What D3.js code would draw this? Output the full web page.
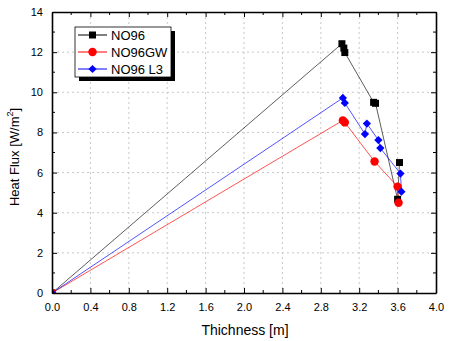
<!DOCTYPE html>
<html><head><meta charset="utf-8">
<script src="https://cdn.jsdelivr.net/npm/d3@7"></script>
<style>body{margin:0;background:#fff}svg{display:block;font-family:Arial,"Liberation Sans",sans-serif}</style>
</head><body>
<svg id="c" width="450" height="341"></svg>
<script>
const seriesNames = ["NO96", "NO96GW", "NO96 L3"];
const seriesColors = ["#000000", "#ff0000", "#0000ff"];
const no96X = [0, 3.02, 3.04, 3.05, 3.35, 3.37, 3.60, 3.62];
const no96Y = [0, 12.42, 12.2, 11.98, 9.5, 9.45, 4.67, 6.5];
const no96gwX = [0, 3.03, 3.05, 3.36, 3.60, 3.61];
const no96gwY = [0, 8.6, 8.5, 6.55, 5.3, 4.5];
const no96l3X = [0, 3.03, 3.05, 3.26, 3.28, 3.40, 3.42, 3.63, 3.64];
const no96l3Y = [0, 9.72, 9.47, 7.92, 8.44, 7.62, 7.22, 5.95, 5.05];
const xTicks = [0, 0.4, 0.8, 1.2, 1.6, 2.0, 2.4, 2.8, 3.2, 3.6, 4.0];
const yTicks = [0, 2, 4, 6, 8, 10, 12, 14];
const xTitle = "Thichness [m]";

const svg = d3.select("#c");
const L = 52, R = 436, T = 12, B = 293;
const x = d3.scaleLinear().domain([0, 4]).range([L, R]);
const y = d3.scaleLinear().domain([0, 14]).range([B, T]);

// grid
const g = svg.append("g");
g.selectAll(".gx").data(xTicks.slice(1, -1)).enter().append("line")
  .attr("x1", d => x(d)).attr("x2", d => x(d)).attr("y1", T).attr("y2", B)
  .attr("stroke", "#c8c8c8").attr("stroke-dasharray", "2,3");
g.selectAll(".gy").data(yTicks.slice(1, -1)).enter().append("line")
  .attr("y1", d => y(d)).attr("y2", d => y(d)).attr("x1", L).attr("x2", R)
  .attr("stroke", "#c8c8c8").attr("stroke-dasharray", "2,3");

svg.append("clipPath").attr("id", "clip").append("rect")
  .attr("x", L).attr("y", T).attr("width", R - L).attr("height", B - T);

const data = [
  no96X.map((v, i) => [v, no96Y[i]]),
  no96gwX.map((v, i) => [v, no96gwY[i]]),
  no96l3X.map((v, i) => [v, no96l3Y[i]])
];
const shapes = [d3.symbolSquare, d3.symbolCircle, d3.symbolSquare];
const sizes = [49, 56, 34];
const rot = [0, 0, 45];
const line = d3.line().x(d => x(d[0])).y(d => y(d[1]));
const plot = svg.append("g").attr("clip-path", "url(#clip)");
data.forEach((s, i) => {
  plot.append("path").attr("d", line(s)).attr("fill", "none")
    .attr("stroke", seriesColors[i]).attr("stroke-width", 0.8).attr("opacity", i === 0 ? 0.8 : 0.85);
});
data.forEach((s, i) => {
  plot.selectAll(null).data(s).enter().append("path")
    .attr("d", d3.symbol().type(shapes[i]).size(sizes[i]))
    .attr("transform", d => `translate(${x(d[0])},${y(d[1])}) rotate(${rot[i]})`)
    .attr("fill", seriesColors[i]);
});

// axes
const axB = d3.axisBottom(x).tickValues(xTicks).tickFormat(d3.format(".1f")).tickSizeInner(-5).tickSizeOuter(0).tickPadding(10);
const axL = d3.axisLeft(y).tickValues(yTicks).tickFormat(d3.format("d")).tickSizeInner(-5).tickSizeOuter(0).tickPadding(9);
const axT = d3.axisTop(x).tickValues(xTicks).tickFormat("").tickSizeInner(-5).tickSizeOuter(0);
const axR = d3.axisRight(y).tickValues(yTicks).tickFormat("").tickSizeInner(-5).tickSizeOuter(0);
const xMinor = d3.range(0.2, 4, 0.4);
const yMinor = d3.range(1, 14, 2);
function style(sel) {
  sel.selectAll("path.domain").attr("stroke", "#000").attr("stroke-width", 1.6);
  sel.selectAll("line").attr("stroke", "#000").attr("stroke-width", 1);
  sel.selectAll("text").attr("font-size", 11).attr("fill", "#000")
    .attr("font-family", "Arial, 'Liberation Sans', sans-serif");
}
style(svg.append("g").attr("transform", `translate(0,${B})`).call(axB));
style(svg.append("g").attr("transform", `translate(${L},0)`).call(axL));
style(svg.append("g").attr("transform", `translate(0,${T})`).call(axT));
style(svg.append("g").attr("transform", `translate(${R},0)`).call(axR));
// minor ticks
const mt = svg.append("g").attr("stroke", "#000").attr("stroke-width", 1);
xMinor.forEach(v => {
  mt.append("line").attr("x1", x(v)).attr("x2", x(v)).attr("y1", B).attr("y2", B - 3);
  mt.append("line").attr("x1", x(v)).attr("x2", x(v)).attr("y1", T).attr("y2", T + 3);
});
yMinor.forEach(v => {
  mt.append("line").attr("y1", y(v)).attr("y2", y(v)).attr("x1", L).attr("x2", L + 3);
  mt.append("line").attr("y1", y(v)).attr("y2", y(v)).attr("x1", R).attr("x2", R - 3);
});

// titles
svg.append("text").attr("x", 245).attr("y", 335).attr("text-anchor", "middle")
  .attr("font-size", 14).text(xTitle);
const yt = svg.append("text").attr("transform", "translate(19,157) rotate(-90)")
  .attr("text-anchor", "middle").attr("font-size", 13);
yt.append("tspan").text("Heat Flux [W/m");
yt.append("tspan").attr("dy", -6).attr("font-size", 9).text("2");
yt.append("tspan").attr("dy", 6).text("]");

// legend
const lg = svg.append("g");
lg.append("rect").attr("x", 79).attr("y", 31).attr("width", 96).attr("height", 50).attr("fill", "#000");
lg.append("rect").attr("x", 75).attr("y", 27).attr("width", 96).attr("height", 50)
  .attr("fill", "#fff").attr("stroke", "#000").attr("stroke-width", 0.8);
seriesNames.forEach((n, i) => {
  const yy = 35 + i * 17;
  lg.append("line").attr("x1", 78).attr("x2", 107).attr("y1", yy).attr("y2", yy)
    .attr("stroke", seriesColors[i]).attr("stroke-width", 1);
  lg.append("path").attr("d", d3.symbol().type(shapes[i]).size(sizes[i]))
    .attr("transform", `translate(92.5,${yy}) rotate(${rot[i]})`).attr("fill", seriesColors[i]);
  lg.append("text").attr("x", 111).attr("y", yy + 5).attr("font-size", 13).text(n);
});
</script>
</body></html>
